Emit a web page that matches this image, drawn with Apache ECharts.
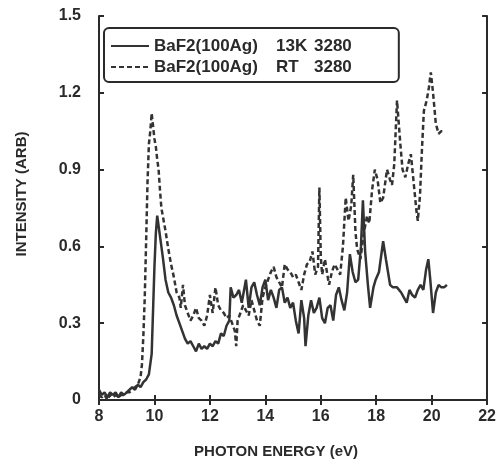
<!DOCTYPE html>
<html>
<head>
<meta charset="utf-8">
<script src="https://cdn.jsdelivr.net/npm/echarts@6/dist/echarts.min.js"></script>
<style>html,body{margin:0;padding:0;background:#fff;}#c{width:499px;height:464px;}</style>
</head>
<body>
<div id="c"></div>
<script>
// ---- data ----
const seriesNames = ['BaF2(100Ag) 13K 3280', 'BaF2(100Ag) RT 3280'];
const xTickLabels = ['8', '10', '12', '14', '16', '18', '20', '22'];
const yTickLabels = ['0', '0.3', '0.6', '0.9', '1.2', '1.5'];

// 13K (solid)
const solidE = [8.0,8.1,8.2,8.3,8.4,8.5,8.6,8.7,8.8,8.9,9.0,9.1,9.2,9.3,9.4,9.5,9.6,9.7,9.8,9.9,9.95,10.0,10.05,10.1,10.15,10.2,10.3,10.4,10.5,10.6,10.7,10.8,10.9,11.0,11.1,11.2,11.3,11.4,11.5,11.6,11.7,11.8,11.9,12.0,12.1,12.2,12.3,12.4,12.5,12.6,12.7,12.75,12.85,12.95,13.05,13.15,13.3,13.4,13.5,13.6,13.7,13.8,13.9,14.0,14.1,14.2,14.3,14.4,14.5,14.6,14.7,14.8,14.9,15.0,15.1,15.2,15.3,15.4,15.45,15.55,15.65,15.75,15.85,15.95,16.05,16.15,16.25,16.35,16.45,16.55,16.65,16.75,16.85,16.95,17.05,17.15,17.25,17.35,17.45,17.52,17.6,17.7,17.78,17.9,17.98,18.1,18.25,18.35,18.5,18.6,18.75,18.9,19.0,19.1,19.2,19.3,19.4,19.5,19.6,19.7,19.8,19.88,19.95,20.05,20.15,20.25,20.35,20.45,20.55];
const solidI = [0.04,0.02,0.03,0.01,0.03,0.02,0.03,0.01,0.03,0.02,0.03,0.04,0.05,0.04,0.06,0.05,0.07,0.08,0.10,0.18,0.35,0.52,0.65,0.72,0.68,0.64,0.56,0.47,0.42,0.40,0.37,0.33,0.30,0.27,0.24,0.22,0.23,0.21,0.19,0.22,0.20,0.21,0.20,0.22,0.21,0.23,0.22,0.26,0.25,0.29,0.31,0.44,0.40,0.41,0.43,0.38,0.47,0.36,0.44,0.46,0.41,0.37,0.44,0.47,0.39,0.43,0.40,0.36,0.43,0.44,0.38,0.40,0.36,0.38,0.31,0.26,0.39,0.32,0.21,0.33,0.39,0.34,0.36,0.40,0.32,0.30,0.36,0.37,0.31,0.41,0.44,0.39,0.35,0.42,0.57,0.50,0.46,0.47,0.60,0.78,0.58,0.45,0.36,0.44,0.47,0.50,0.62,0.55,0.45,0.44,0.44,0.42,0.40,0.38,0.43,0.41,0.40,0.43,0.45,0.43,0.51,0.55,0.47,0.34,0.42,0.45,0.44,0.44,0.45];

// RT (dashed)
const dashE = [8.0,8.1,8.2,8.3,8.4,8.5,8.6,8.7,8.8,8.9,9.0,9.1,9.2,9.3,9.4,9.5,9.55,9.6,9.65,9.7,9.75,9.8,9.85,9.9,9.95,10.0,10.05,10.1,10.15,10.2,10.25,10.3,10.4,10.5,10.6,10.7,10.8,10.9,10.95,11.03,11.1,11.2,11.3,11.4,11.5,11.6,11.7,11.8,11.9,12.0,12.1,12.2,12.3,12.4,12.5,12.6,12.7,12.8,12.9,12.95,13.0,13.1,13.2,13.3,13.4,13.5,13.6,13.7,13.8,13.9,14.0,14.1,14.2,14.3,14.4,14.5,14.6,14.7,14.8,14.9,15.0,15.1,15.2,15.3,15.4,15.5,15.6,15.7,15.8,15.9,15.95,16.0,16.05,16.15,16.25,16.3,16.4,16.5,16.6,16.7,16.8,16.9,17.0,17.1,17.17,17.25,17.31,17.43,17.55,17.67,17.75,17.85,17.95,18.05,18.15,18.25,18.39,18.5,18.57,18.65,18.75,18.87,18.95,19.05,19.15,19.25,19.35,19.45,19.5,19.58,19.65,19.72,19.82,19.9,19.97,20.05,20.15,20.25,20.35,20.42];
const dashI = [0.02,0.01,0.02,0.00,0.02,0.01,0.02,0.01,0.02,0.02,0.03,0.03,0.04,0.05,0.06,0.09,0.14,0.25,0.40,0.62,0.85,1.00,1.05,1.12,1.07,1.02,0.99,0.94,0.90,0.82,0.75,0.72,0.66,0.59,0.53,0.48,0.42,0.40,0.36,0.45,0.37,0.34,0.31,0.33,0.36,0.32,0.31,0.29,0.33,0.41,0.34,0.44,0.37,0.35,0.34,0.32,0.33,0.30,0.27,0.21,0.31,0.34,0.37,0.35,0.33,0.39,0.35,0.31,0.29,0.40,0.44,0.47,0.50,0.52,0.48,0.46,0.44,0.53,0.51,0.50,0.48,0.49,0.46,0.43,0.49,0.53,0.54,0.58,0.49,0.52,0.83,0.56,0.49,0.55,0.48,0.45,0.50,0.53,0.51,0.49,0.60,0.79,0.70,0.76,0.88,0.66,0.59,0.55,0.65,0.72,0.69,0.82,0.90,0.86,0.77,0.79,0.90,0.86,0.84,0.92,1.17,1.00,0.90,0.87,0.92,0.96,0.85,0.74,0.70,0.80,0.98,1.13,1.17,1.22,1.28,1.20,1.08,1.04,1.05,1.05];

// ---- chart ----
const FONT = "'Liberation Sans', Arial, Helvetica, sans-serif";
const INK = '#2a2a2a';
const chart = echarts.init(document.getElementById('c'), null, {renderer: 'canvas'});

function legendFmt(name) {
  const p = name.split(' ');
  return '{n|' + p[0] + '}{t|' + p[1] + '}{v|' + p[2] + '}';
}
const richBase = {fontFamily: FONT, fontWeight: 'bold', fontSize: 17, color: INK, lineHeight: 20};

const frameAxis = {
  show: true,
  axisLine: {show: true, lineStyle: {color: INK, width: 2}},
  axisTick: {show: true, inside: true, length: 5, lineStyle: {color: INK, width: 2}},
  splitLine: {show: false},
  axisLabel: {show: false}
};

chart.setOption({
  animation: false,
  backgroundColor: '#fff',
  grid: {left: 99, right: 10, top: 16, bottom: 61, containLabel: false},
  legend: {
    orient: 'vertical',
    left: 104, top: 28,
    padding: [8, 47, 5, 6],
    itemGap: 1,
    itemWidth: 38, itemHeight: 14,
    borderColor: INK, borderWidth: 2, borderRadius: 5,
    itemStyle: {opacity: 0},
    lineStyle: {width: 2},
    data: seriesNames,
    formatter: legendFmt,
    textStyle: {
      fontFamily: FONT, fontWeight: 'bold', fontSize: 17, color: INK, lineHeight: 20,
      rich: {
        n: Object.assign({width: 122}, richBase),
        t: Object.assign({width: 38}, richBase),
        v: Object.assign({}, richBase)
      }
    }
  },
  xAxis: [
    {
      type: 'value', min: 8, max: 22, interval: 2,
      name: 'PHOTON ENERGY (eV)', nameLocation: 'middle', nameGap: 44,
      nameTextStyle: {fontFamily: FONT, fontWeight: 'bold', fontSize: 15, color: INK, padding: [0, 34, 0, 0]},
      axisLine: {show: true, onZero: false, lineStyle: {color: INK, width: 2}},
      axisTick: {show: true, inside: true, length: 5, lineStyle: {color: INK, width: 2}},
      splitLine: {show: false},
      axisLabel: {
        show: true, margin: 9, fontFamily: FONT, fontWeight: 'bold', fontSize: 16, color: INK,
        formatter: function (v) { return xTickLabels[Math.round((v - 8) / 2)]; }
      }
    },
    Object.assign({type: 'value', position: 'top', min: 8, max: 22, interval: 2}, frameAxis)
  ],
  yAxis: [
    {
      type: 'value', min: 0, max: 1.5, interval: 0.3,
      name: 'INTENSITY (ARB)', nameLocation: 'middle', nameGap: 70, nameRotate: 90,
      nameTextStyle: {fontFamily: FONT, fontWeight: 'bold', fontSize: 15, color: INK, padding: [0, 0, 0, 28]},
      axisLine: {show: true, onZero: false, lineStyle: {color: INK, width: 2}},
      axisTick: {show: true, inside: true, length: 5, lineStyle: {color: INK, width: 2}},
      splitLine: {show: false},
      axisLabel: {
        show: true, margin: 18, fontFamily: FONT, fontWeight: 'bold', fontSize: 16, color: INK,
        formatter: function (v) { return yTickLabels[Math.round(v / 0.3)]; }
      }
    },
    Object.assign({type: 'value', position: 'right', min: 0, max: 1.5, interval: 0.3}, frameAxis)
  ],
  series: [
    {
      name: seriesNames[0], type: 'line', symbol: 'none', showSymbol: false,
      data: solidE.map((e, i) => [e, solidI[i]]),
      lineStyle: {color: '#333', width: 2.5, type: 'solid'},
      itemStyle: {color: '#333'}
    },
    {
      name: seriesNames[1], type: 'line', symbol: 'none', showSymbol: false,
      data: dashE.map((e, i) => [e, dashI[i]]),
      lineStyle: {color: '#333', width: 2.5, type: [5, 3]},
      itemStyle: {color: '#333'}
    }
  ]
});
</script>
</body>
</html>
